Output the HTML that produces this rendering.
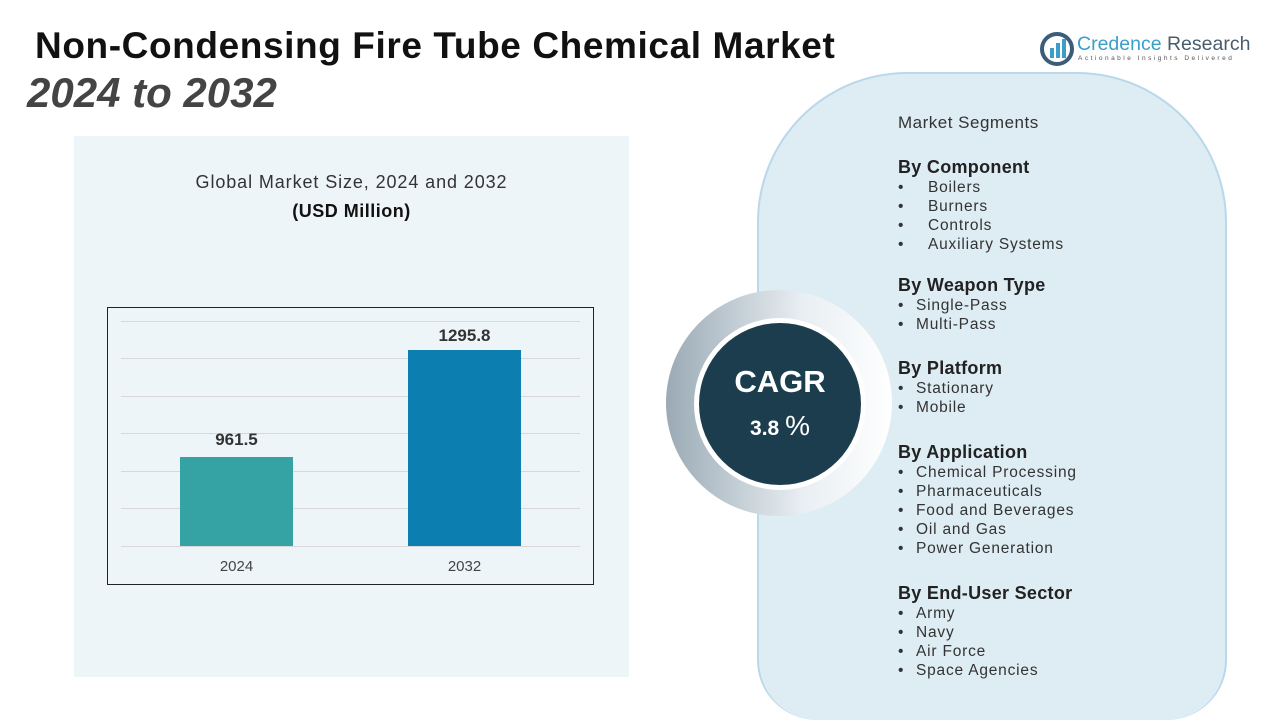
<!DOCTYPE html>
<html><head><meta charset="utf-8"><style>
*{margin:0;padding:0;box-sizing:border-box}
html{width:1280px;height:720px;overflow:hidden}
body{width:1280px;height:720px;background:#fff;position:relative;overflow:hidden;font-family:"Liberation Sans",sans-serif;color:#222}
.a{position:absolute}
.seg{font-size:15.5px;color:#333;line-height:19px;letter-spacing:0.8px}
.seg b{font-size:18px;color:#222;display:block;line-height:22px;letter-spacing:0.3px}
.li{padding-left:18px;position:relative}
.li:before{content:"•";position:absolute;left:0}
.li2{padding-left:30px;position:relative}
.li2:before{content:"•";position:absolute;left:0}
.grid{position:absolute;left:13px;right:13px;height:1px;background:#d8d8d8}
</style></head><body>
<div class="a" style="left:35px;top:25px;font-size:37px;font-weight:bold;color:#111;letter-spacing:0.6px">Non-Condensing Fire Tube Chemical Market</div>
<div class="a" style="left:27px;top:69px;font-size:42px;font-weight:bold;font-style:italic;color:#444">2024 to 2032</div>
<!-- logo -->
<svg class="a" style="left:1040px;top:32px" width="34" height="34" viewBox="0 0 34 34"><circle cx="17" cy="17" r="15" fill="none" stroke="#3a5d7a" stroke-width="4"/><rect x="10" y="16" width="4" height="10" fill="#3a9ec8"/><rect x="16" y="11" width="4" height="15" fill="#3a9ec8"/><rect x="22" y="7" width="4" height="19" fill="#3a9ec8"/></svg>
<div class="a" style="left:1077px;top:33px;font-size:19.5px;color:#3a9ec8">Credence <span style="color:#4a5d6e">Research</span></div>
<div class="a" style="left:1078px;top:55px;font-size:6.5px;letter-spacing:2.5px;color:#555">Actionable Insights Delivered</div>
<!-- chart panel -->
<div class="a" style="left:74px;top:136px;width:555px;height:541px;background:#eef5f9"></div>
<div class="a" style="left:74px;top:172px;width:555px;text-align:center;font-size:18px;color:#333;letter-spacing:0.9px">Global Market Size, 2024 and 2032</div>
<div class="a" style="left:74px;top:201px;width:555px;text-align:center;font-size:18px;font-weight:bold;color:#111;letter-spacing:0.5px">(USD Million)</div>
<div class="a" style="left:107px;top:307px;width:487px;height:278px;border:1px solid #222;background:#eef5f9">
<div class="grid" style="top:13px"></div><div class="grid" style="top:50px"></div><div class="grid" style="top:88px"></div><div class="grid" style="top:125px"></div><div class="grid" style="top:163px"></div><div class="grid" style="top:200px"></div><div class="grid" style="top:238px"></div>
<div class="a" style="left:72px;top:149px;width:113px;height:89px;background:#35a3a3"></div>
<div class="a" style="left:300px;top:42px;width:113px;height:196px;background:#0c7eb0"></div>
<div class="a" style="left:72px;top:122px;width:113px;text-align:center;font-size:17px;font-weight:bold;color:#333">961.5</div>
<div class="a" style="left:300px;top:18px;width:113px;text-align:center;font-size:17px;font-weight:bold;color:#333">1295.8</div>
<div class="a" style="left:72px;top:250px;width:113px;text-align:center;font-size:15px;color:#444">2024</div>
<div class="a" style="left:300px;top:250px;width:113px;text-align:center;font-size:15px;color:#444">2032</div>
</div>
<!-- right panel -->
<div class="a" style="left:757px;top:72px;width:470px;height:648px;border-radius:150px 150px 60px 60px;background:#deecf4;border:2px solid #b9d8ea;border-bottom:none"></div>
<div class="a" style="left:666px;top:290px;width:226px;height:226px;border-radius:50%;background:linear-gradient(90deg,#9aaab5,#e8eef2 60%,#fff)"></div>
<div class="a" style="left:694px;top:318px;width:172px;height:172px;border-radius:50%;background:#fff"></div>
<div class="a" style="left:699px;top:323px;width:162px;height:162px;border-radius:50%;background:#1b3d4d"></div>
<div class="a" style="left:699px;top:364px;width:162px;text-align:center;color:#fff;font-size:31px;font-weight:bold">CAGR</div>
<div class="a" style="left:699px;top:410px;width:162px;text-align:center;color:#fff;font-size:21px;font-weight:bold">3.8 <span style="font-weight:normal;font-size:28px">%</span></div>
<div class="a seg" style="left:898px;top:112px">
<div style="font-size:17px;line-height:22px;letter-spacing:0.5px">Market Segments</div>
<b style="margin-top:22px">By Component</b>
<div class="li2">Boilers</div><div class="li2">Burners</div><div class="li2">Controls</div><div class="li2">Auxiliary Systems</div>
<b style="margin-top:20px">By Weapon Type</b>
<div class="li">Single-Pass</div><div class="li">Multi-Pass</div>
<b style="margin-top:23px">By Platform</b>
<div class="li">Stationary</div><div class="li">Mobile</div>
<b style="margin-top:24px">By Application</b>
<div class="li">Chemical Processing</div><div class="li">Pharmaceuticals</div><div class="li">Food and Beverages</div><div class="li">Oil and Gas</div><div class="li">Power Generation</div>
<b style="margin-top:24px">By End-User Sector</b>
<div class="li">Army</div><div class="li">Navy</div><div class="li">Air Force</div><div class="li">Space Agencies</div>
</div>
</body></html>
